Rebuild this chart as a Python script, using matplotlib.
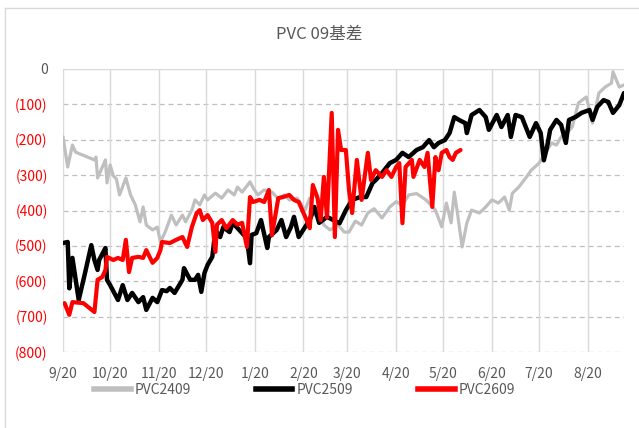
import numpy as np
import pandas as pd
import matplotlib
matplotlib.use("Agg")
import matplotlib.pyplot as plt
from matplotlib.lines import Line2D

plt.rcParams['font.family'] = ['Noto Sans CJK SC', 'DejaVu Sans']

# ---- data (days after 2024-09-20, basis value) ----
start = pd.Timestamp('2024-09-20')

pvc2409_days = [0, 3, 6, 8, 20, 21, 22, 27, 28, 30, 32, 34, 36, 40, 43, 46, 49, 51, 53, 57,
                60, 62, 65, 69, 72, 76, 78, 82, 84, 87, 90, 92, 97, 101, 105, 109, 111, 114,
                119, 121, 124, 128, 133, 137, 141, 144, 149, 154, 157, 160, 163, 166, 170,
                175, 179, 182, 186, 190, 194, 198, 203, 208, 212, 216, 220, 225, 231, 237,
                241, 244, 247, 249, 251, 254, 257, 260, 265, 269, 273, 277, 281, 284, 286,
                290, 295, 298, 303, 307, 311, 314, 317, 321, 324, 328, 333, 337, 341, 345,
                349, 350, 354, 357]
pvc2409 = [-192, -277, -215, -235, -257, -249, -308, -257, -322, -271, -302, -311, -356, -308,
           -356, -384, -432, -390, -441, -455, -447, -489, -461, -413, -441, -413, -432, -399,
           -370, -384, -356, -370, -351, -365, -342, -356, -334, -348, -319, -336, -356, -342,
           -348, -367, -356, -370, -365, -399, -365, -413, -404, -441, -455, -441, -461, -461,
           -430, -441, -407, -395, -421, -390, -375, -385, -356, -352, -370, -399, -446, -379,
           -435, -348, -407, -503, -435, -399, -407, -390, -370, -379, -362, -399, -351, -334,
           -305, -286, -266, -237, -209, -215, -192, -180, -164, -96, -79, -153, -68, -51,
           -40, -8, -51, -45]

pvc2509_days = [0, 3, 4, 6, 10, 14, 18, 20, 22, 23, 25, 27, 28, 30, 35, 38, 41, 44, 48, 51,
                53, 57, 60, 63, 66, 68, 71, 76, 77, 79, 81, 84, 86, 88, 90, 92, 95, 97, 100,
                102, 106, 108, 114, 117, 119, 120, 123, 126, 130, 131, 136, 139, 142, 145,
                147, 150, 154, 157, 160, 163, 168, 176, 180, 184, 189, 193, 197, 199, 203,
                208, 212, 216, 220, 225, 229, 233, 236, 239, 243, 246, 249, 252, 256, 257,
                260, 265, 269, 271, 276, 279, 283, 285, 288, 292, 297, 301, 304, 306, 308,
                310, 314, 317, 320, 322, 326, 330, 335, 337, 340, 344, 347, 350, 354, 357]
pvc2509 = [-492, -489, -620, -534, -653, -577, -498, -540, -568, -540, -523, -506, -596, -611,
           -653, -611, -653, -633, -659, -645, -681, -647, -659, -625, -628, -619, -633, -596,
           -563, -580, -596, -596, -582, -630, -577, -554, -531, -455, -475, -447, -461, -435,
           -464, -478, -549, -469, -464, -427, -506, -475, -455, -427, -475, -447, -418, -475,
           -447, -427, -390, -435, -418, -436, -399, -370, -362, -362, -322, -314, -294, -266,
           -257, -237, -249, -229, -221, -201, -221, -209, -201, -181, -136, -144, -153, -181,
           -130, -116, -136, -172, -130, -164, -130, -192, -130, -136, -192, -153, -181, -258,
           -221, -172, -144, -158, -209, -144, -136, -124, -116, -144, -107, -88, -93, -124,
           -102, -68]

pvc2609_days = [1, 4, 6, 13, 20, 22, 25, 27, 28, 32, 35, 38, 40, 42, 44, 48, 51, 53, 57, 60,
                62, 63, 68, 72, 76, 79, 82, 85, 87, 89, 92, 95, 97, 98, 101, 104, 108, 111,
                114, 117, 119, 121, 125, 128, 131, 133, 137, 140, 144, 147, 150, 155, 157,
                159, 162, 164, 166, 168, 171, 173, 175, 177, 180, 182, 184, 187, 190, 194,
                196, 199, 203, 206, 209, 212, 214, 216, 218, 222, 223, 227, 230, 232, 235,
                237, 239, 241, 244, 246, 248, 250, 253]
pvc2609 = [-662, -695, -659, -662, -687, -596, -588, -568, -531, -540, -534, -540, -483, -574,
           -534, -531, -534, -512, -548, -534, -512, -489, -492, -483, -475, -503, -447, -408,
           -399, -427, -413, -435, -517, -440, -427, -450, -427, -440, -435, -503, -362, -376,
           -370, -376, -342, -470, -365, -362, -356, -370, -376, -427, -450, -328, -365, -427,
           -305, -420, -124, -475, -172, -229, -229, -342, -407, -257, -370, -237, -314, -286,
           -305, -286, -305, -277, -266, -436, -277, -257, -305, -257, -277, -237, -390, -249,
           -286, -237, -229, -249, -257, -237, -229]

tick_dates = ['2024-09-20', '2024-10-20', '2024-11-20', '2024-12-20', '2025-01-20',
              '2025-02-20', '2025-03-20', '2025-04-20', '2025-05-20', '2025-06-20',
              '2025-07-20', '2025-08-20']
tick_labels = ['9/20', '10/20', '11/20', '12/20', '1/20', '2/20', '3/20', '4/20', '5/20',
               '6/20', '7/20', '8/20']
y_ticks = [0, -100, -200, -300, -400, -500, -600, -700, -800]
y_labels = ['0', '(100)', '(200)', '(300)', '(400)', '(500)', '(600)', '(700)', '(800)']


def to_dates(days):
    return start + pd.to_timedelta(days, unit='D')


text_gray = '#595959'
line_kw = {'solid_joinstyle': 'round', 'solid_capstyle': 'round'}

fig = plt.figure(figsize=(6.39, 4.28), dpi=100)
ax = fig.add_axes([63 / 639, 1 - 352 / 428, 561 / 639, 283 / 428])

ax.plot(to_dates(pvc2409_days), pvc2409, color='#BFBFBF', lw=2.3, zorder=3, **line_kw)
ax.plot(to_dates(pvc2509_days), pvc2509, color='black', lw=3.2, zorder=4, **line_kw)
ax.plot(to_dates(pvc2609_days), pvc2609, color='#FF0000', lw=3.0, zorder=5, **line_kw)

ax.set_xlim(start, start + pd.Timedelta(days=357))
ax.set_ylim(-800, 0)

ax.set_xticks(pd.to_datetime(tick_dates))
ax.set_xticklabels(tick_labels, color=text_gray, fontsize=10)
ax.set_yticks(y_ticks)
ax.set_yticklabels(y_labels, fontsize=10)
for lbl in ax.get_yticklabels():
    lbl.set_color(text_gray if lbl.get_text() == '0' else '#FF0000')
ax.tick_params(length=0, pad=11)

# grid: solid verticals, dashed horizontals, solid line at zero
ax.grid(axis='x', color='#D9D9D9', lw=1, ls='-', zorder=0)
for v in y_ticks[1:]:
    ax.axhline(v, color='#BFBFBF', lw=0.9, ls=(0, (4, 3)), zorder=0)
ax.axhline(0, color='#D9D9D9', lw=1, zorder=0)
for s in ax.spines.values():
    s.set_visible(False)

fig.text(0.5, 1 - 34 / 428, 'PVC 09基差', ha='center', va='center',
         fontsize=12, color=text_gray)

handles = [Line2D([], [], color='#BFBFBF', lw=4),
           Line2D([], [], color='black', lw=4),
           Line2D([], [], color='#FF0000', lw=4)]
fig.legend(handles, ['PVC2409', 'PVC2509', 'PVC2609'], loc='center',
           bbox_to_anchor=(0.477, 1 - 390 / 428), ncol=3, frameon=False,
           fontsize=10, labelcolor=text_gray, handlelength=2.6,
           handletextpad=0.3, columnspacing=4.7)

# chart area border (cut off at right and bottom)
fig.add_artist(Line2D([5 / 639, 1], [1 - 8 / 428, 1 - 8 / 428], color='#D9D9D9', lw=1))
fig.add_artist(Line2D([5 / 639, 5 / 639], [0, 1 - 8 / 428], color='#D9D9D9', lw=1))

fig.savefig('out.png', dpi=100)
